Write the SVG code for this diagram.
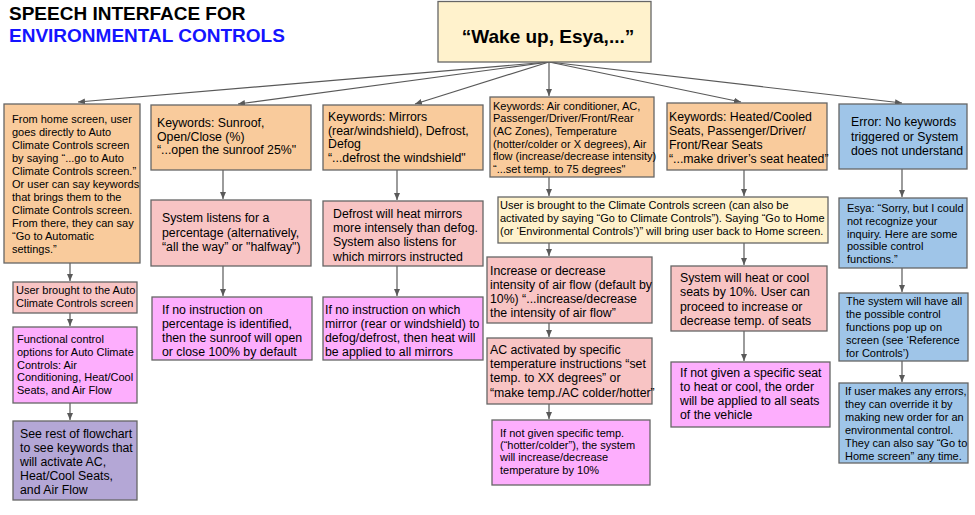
<svg xmlns="http://www.w3.org/2000/svg" width="975" height="515" viewBox="0 0 975 515">
<defs>
<marker id="ah" markerWidth="8" markerHeight="8" refX="7" refY="4" orient="auto" markerUnits="userSpaceOnUse">
<path d="M0,1 L7,4 L0,7 Z" fill="#595959"/>
</marker>
<style>
.b{stroke:#666;stroke-width:1.3}
.or{fill:#f9cb9c}.pk{fill:#f8c4c4}.mg{fill:#fdaefd}.pu{fill:#b4a7d6}.bl{fill:#9fc5e8}.ye{fill:#fff2cc}
text{font-family:"Liberation Sans",Arial,sans-serif;fill:#000}
.s{font-size:11px}.m{font-size:12.3px}
.c line{stroke:#595959;stroke-width:1.2;marker-end:url(#ah)}
</style>
</defs>
<rect width="975" height="515" fill="#fff"/>
<g id="title">
<text x="9" y="20" style="font-size:19px;font-weight:bold">SPEECH INTERFACE FOR</text>
<text x="9" y="42" style="font-size:19px;font-weight:bold;fill:#1414ff">ENVIRONMENTAL CONTROLS</text>
</g>
<g class="c" id="connectors">
<line x1="549" y1="62" x2="78" y2="102"/>
<line x1="549" y1="62" x2="238" y2="104"/>
<line x1="549" y1="62" x2="415" y2="104"/>
<line x1="549" y1="62" x2="549" y2="96"/>
<line x1="549" y1="62" x2="741" y2="102"/>
<line x1="549" y1="62" x2="902" y2="103"/>
<line x1="70" y1="263" x2="70" y2="281"/>
<line x1="70" y1="313" x2="70" y2="326"/>
<line x1="70" y1="403" x2="70" y2="420"/>
<line x1="223" y1="170" x2="223" y2="199"/>
<line x1="223" y1="266" x2="223" y2="296"/>
<line x1="397" y1="170" x2="397" y2="200"/>
<line x1="397" y1="266" x2="397" y2="296"/>
<line x1="549" y1="177" x2="549" y2="196"/>
<line x1="549" y1="243" x2="549" y2="256"/>
<line x1="549" y1="323" x2="549" y2="337"/>
<line x1="549" y1="404" x2="549" y2="419"/>
<line x1="744" y1="170" x2="744" y2="196"/>
<line x1="744" y1="243" x2="744" y2="265"/>
<line x1="744" y1="331" x2="744" y2="361"/>
<line x1="902" y1="169" x2="902" y2="197"/>
<line x1="902" y1="268" x2="902" y2="292"/>
<line x1="902" y1="361" x2="902" y2="382"/>
</g>
<g id="wake">
<rect class="b ye" x="438" y="1.5" width="213" height="60.5"/>
<text x="548" y="43" text-anchor="middle" style="font-size:19px;font-weight:bold">“Wake up, Esya,...”</text>
</g>
<g id="home">
<rect class="b or" x="4" y="104" width="136" height="159"/>
<text class="s" x="12" y="123"><tspan x="12">From home screen, user</tspan><tspan x="12" dy="13">goes directly to Auto</tspan><tspan x="12" dy="13">Climate Controls screen</tspan><tspan x="12" dy="13">by saying “...go to Auto</tspan><tspan x="12" dy="13">Climate Controls screen.”</tspan><tspan x="12" dy="13">Or user can say keywords</tspan><tspan x="12" dy="13">that brings them to the</tspan><tspan x="12" dy="13">Climate Controls screen.</tspan><tspan x="12" dy="13">From there, they can say</tspan><tspan x="12" dy="13">“Go to Automatic</tspan><tspan x="12" dy="13">settings.”</tspan></text>
</g>
<g id="autoScreen">
<rect class="b pk" x="13" y="282" width="124" height="31"/>
<text class="s" x="16" y="294"><tspan x="16">User brought to the Auto</tspan><tspan x="16" dy="12.5">Climate Controls screen</tspan></text>
</g>
<g id="functional">
<rect class="b mg" x="13" y="327" width="124" height="76"/>
<text class="s" x="17" y="343"><tspan x="17">Functional control</tspan><tspan x="17" dy="12.8">options for Auto Climate</tspan><tspan x="17" dy="12.8">Controls: Air</tspan><tspan x="17" dy="12.8">Conditioning, Heat/Cool</tspan><tspan x="17" dy="12.8">Seats, and Air Flow</tspan></text>
</g>
<g id="seeRest">
<rect class="b pu" x="13" y="421" width="124" height="79"/>
<text class="m" x="20" y="438"><tspan x="20">See rest of flowchart</tspan><tspan x="20" dy="14">to see keywords that</tspan><tspan x="20" dy="14">will activate AC,</tspan><tspan x="20" dy="14">Heat/Cool Seats,</tspan><tspan x="20" dy="14">and Air Flow</tspan></text>
</g>
<g id="sunroof">
<rect class="b or" x="151" y="105" width="160" height="65"/>
<text class="m" x="157" y="127"><tspan x="157">Keywords: Sunroof,</tspan><tspan x="157" dy="13.6">Open/Close (%)</tspan><tspan x="157" dy="13.6">“...open the sunroof 25%"</tspan></text>
</g>
<g id="listens">
<rect class="b pk" x="151" y="200" width="160" height="66"/>
<text class="m" x="162" y="222"><tspan x="162">System listens for a</tspan><tspan x="162" dy="14.5">percentage (alternatively,</tspan><tspan x="162" dy="14.5">“all the way” or "halfway")</tspan></text>
</g>
<g id="sunroofDefault">
<rect class="b mg" x="152" y="297" width="160" height="63"/>
<text class="m" x="162" y="314"><tspan x="162">If no instruction on</tspan><tspan x="162" dy="14">percentage is identified,</tspan><tspan x="162" dy="14">then the sunroof will open</tspan><tspan x="162" dy="14">or close 100% by default</tspan></text>
</g>
<g id="mirrors">
<rect class="b or" x="323" y="105" width="160" height="65"/>
<text class="m" x="328" y="121"><tspan x="328">Keywords: Mirrors</tspan><tspan x="328" dy="13.5">(rear/windshield), Defrost,</tspan><tspan x="328" dy="13.5">Defog</tspan><tspan x="328" dy="13.5">“...defrost the windshield"</tspan></text>
</g>
<g id="defrost">
<rect class="b pk" x="323" y="201" width="160" height="65"/>
<text class="m" x="333" y="218"><tspan x="333">Defrost will heat mirrors</tspan><tspan x="333" dy="14.2">more intensely than defog.</tspan><tspan x="333" dy="14.2">System also listens for</tspan><tspan x="333" dy="14.2">which mirrors instructed</tspan></text>
</g>
<g id="mirrorDefault">
<rect class="b mg" x="323" y="297" width="160" height="63"/>
<text class="m" x="325" y="314"><tspan x="325">If no instruction on which</tspan><tspan x="325" dy="14">mirror (rear or windshield) to</tspan><tspan x="325" dy="14">defog/defrost, then heat will</tspan><tspan x="325" dy="14">be applied to all mirrors</tspan></text>
</g>
<g id="acKeywords">
<rect class="b or" x="490" y="97" width="164" height="80"/>
<text class="s" x="493" y="109.5"><tspan x="493">Keywords: Air conditioner, AC,</tspan><tspan x="493" dy="12.7">Passenger/Driver/Front/Rear</tspan><tspan x="493" dy="12.7">(AC Zones), Temperature</tspan><tspan x="493" dy="12.7">(hotter/colder or X degrees), Air</tspan><tspan x="493" dy="12.7">flow (increase/decrease intensity)</tspan><tspan x="493" dy="12.7">“...set temp. to 75 degrees"</tspan></text>
</g>
<g id="climateScreen">
<rect class="b ye" x="498" y="197" width="330" height="46"/>
<text class="s" x="500" y="209"><tspan x="500">User is brought to the Climate Controls screen (can also be</tspan><tspan x="500" dy="13">activated by saying “Go to Climate Controls”). Saying “Go to Home</tspan><tspan x="500" dy="13">(or ‘Environmental Controls’)” will bring user back to Home screen.</tspan></text>
</g>
<g id="airflow">
<rect class="b pk" x="487" y="257" width="165" height="66"/>
<text class="m" x="490" y="275"><tspan x="490">Increase or decrease</tspan><tspan x="490" dy="13.9">intensity of air flow (default by</tspan><tspan x="490" dy="13.9">10%) “...increase/decrease</tspan><tspan x="490" dy="13.9">the intensity of air flow”</tspan></text>
</g>
<g id="acActivated">
<rect class="b pk" x="487" y="338" width="165" height="66"/>
<text class="m" x="490" y="354"><tspan x="490">AC activated by specific</tspan><tspan x="490" dy="14.2">temperature instructions “set</tspan><tspan x="490" dy="14.2">temp. to XX degrees” or</tspan><tspan x="490" dy="14.2">“make temp./AC colder/hotter”</tspan></text>
</g>
<g id="tempDefault">
<rect class="b mg" x="492" y="420" width="158" height="65"/>
<text class="s" x="500" y="437"><tspan x="500">If not given specific temp.</tspan><tspan x="500" dy="12.2">(“hotter/colder”), the system</tspan><tspan x="500" dy="12.2">will increase/decrease</tspan><tspan x="500" dy="12.2">temperature by 10%</tspan></text>
</g>
<g id="seats">
<rect class="b or" x="667" y="103" width="160" height="67"/>
<text class="m" x="669" y="121"><tspan x="669">Keywords: Heated/Cooled</tspan><tspan x="669" dy="14">Seats, Passenger/Driver/</tspan><tspan x="669" dy="14">Front/Rear Seats</tspan><tspan x="669" dy="14">“...make driver’s seat heated”</tspan></text>
</g>
<g id="seatHeat">
<rect class="b pk" x="671" y="266" width="156" height="65"/>
<text class="m" x="680" y="282"><tspan x="680">System will heat or cool</tspan><tspan x="680" dy="14.3">seats by 10%. User can</tspan><tspan x="680" dy="14.3">proceed to increase or</tspan><tspan x="680" dy="14.3">decrease temp. of seats</tspan></text>
</g>
<g id="seatDefault">
<rect class="b mg" x="671" y="362" width="159" height="65"/>
<text class="m" x="680" y="377"><tspan x="680">If not given a specific seat</tspan><tspan x="680" dy="14">to heat or cool, the order</tspan><tspan x="680" dy="14">will be applied to all seats</tspan><tspan x="680" dy="14">of the vehicle</tspan></text>
</g>
<g id="error">
<rect class="b bl" x="839" y="104" width="128" height="65"/>
<text class="m" x="851" y="126"><tspan x="851">Error: No keywords</tspan><tspan x="851" dy="14.5">triggered or System</tspan><tspan x="851" dy="14.5">does not understand</tspan></text>
</g>
<g id="esya">
<rect class="b bl" x="839" y="198" width="128" height="70"/>
<text class="s" x="847" y="212"><tspan x="847">Esya: “Sorry, but I could</tspan><tspan x="847" dy="12.8">not recognize your</tspan><tspan x="847" dy="12.8">inquiry. Here are some</tspan><tspan x="847" dy="12.8">possible control</tspan><tspan x="847" dy="12.8">functions.”</tspan></text>
</g>
<g id="popup">
<rect class="b bl" x="839" y="293" width="129" height="68"/>
<text class="s" x="846" y="305"><tspan x="846">The system will have all</tspan><tspan x="846" dy="13">the possible control</tspan><tspan x="846" dy="13">functions pop up on</tspan><tspan x="846" dy="13">screen (see ‘Reference</tspan><tspan x="846" dy="13">for Controls’)</tspan></text>
</g>
<g id="override">
<rect class="b bl" x="839" y="383" width="129" height="80"/>
<text class="s" x="845" y="394.5"><tspan x="845">If user makes any errors,</tspan><tspan x="845" dy="13.1">they can override it by</tspan><tspan x="845" dy="13.1">making new order for an</tspan><tspan x="845" dy="13.1">environmental control.</tspan><tspan x="845" dy="13.1">They can also say “Go to</tspan><tspan x="845" dy="13.1">Home screen” any time.</tspan></text>
</g>
</svg>
